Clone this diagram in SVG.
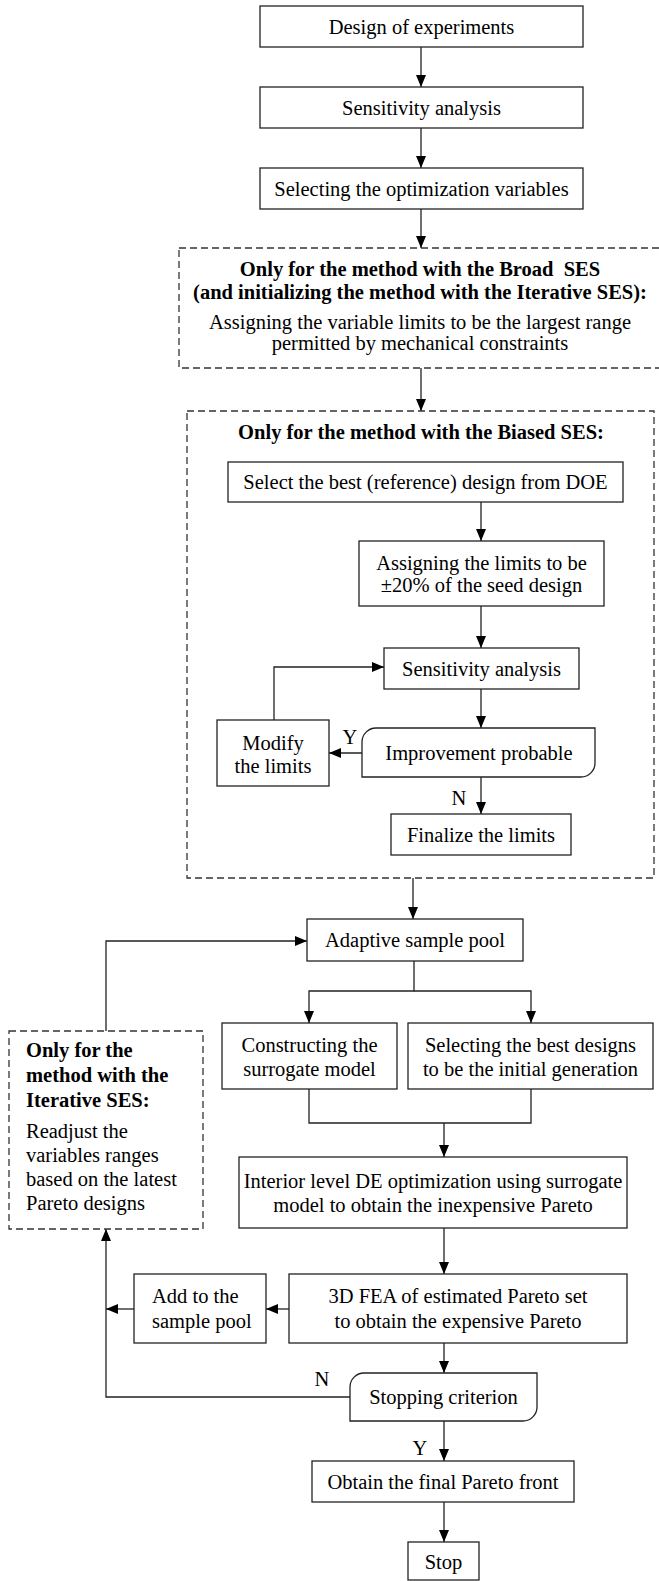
<svg xmlns="http://www.w3.org/2000/svg" width="659" height="1581" viewBox="0 0 659 1581">
<style>
text{font-family:"Liberation Serif","Times New Roman",serif;font-size:20.5px;fill:#000}
.c{text-anchor:middle}
.b{font-weight:bold}
.box{fill:#fff;stroke:#222;stroke-width:1.3}
.dash{fill:none;stroke:#333;stroke-width:1.3;stroke-dasharray:7 4}
.ln{fill:none;stroke:#222;stroke-width:1.3}
.ar{fill:none;stroke:#222;stroke-width:1.3;marker-end:url(#ah)}
</style>
<defs>
<marker id="ah" viewBox="0 0 12 10" refX="12" refY="5" markerWidth="12" markerHeight="10" orient="auto" markerUnits="userSpaceOnUse">
<path d="M0,0 L12,5 L0,10 Z" fill="#000"/>
</marker>
</defs>
<rect width="659" height="1581" fill="#fff"/>

<g id="connectors">
<path class="ar" d="M421 47 V87"/>
<path class="ar" d="M421 128 V168"/>
<path class="ar" d="M421 209 V248"/>
<path class="ar" d="M421 368 V411"/>
<path class="ar" d="M481 502 V541"/>
<path class="ar" d="M481 606 V648"/>
<path class="ar" d="M481 689 V728"/>
<path class="ar" d="M362 753 H329"/>
<path class="ar" d="M274 720 V667 H384"/>
<path class="ar" d="M481 777 V814"/>
<path class="ar" d="M413 878 V919"/>
<path class="ar" d="M414 961 V991 H309 V1023"/>
<path class="ar" d="M414 991 H531 V1023"/>
<path class="ln" d="M309 1089 V1123 H531 V1089"/>
<path class="ar" d="M444 1123 V1157"/>
<path class="ar" d="M444 1228 V1274"/>
<path class="ar" d="M289 1309 H266"/>
<path class="ar" d="M134 1309 H106"/>
<path class="ar" d="M444 1343 V1373"/>
<path class="ar" d="M350 1397 H106 V1229"/>
<path class="ar" d="M106 1031 V941 H307"/>
<path class="ar" d="M444 1421 V1461"/>
<path class="ar" d="M444 1502 V1542"/>
</g>

<g id="n1"><rect class="box" x="260" y="6" width="323" height="41"/><text class="c" x="421.5" y="33.5">Design of experiments</text></g>
<g id="n2"><rect class="box" x="260" y="87" width="323" height="41"/><text class="c" x="421.5" y="114.5">Sensitivity analysis</text></g>
<g id="n3"><rect class="box" x="260" y="168" width="323" height="41"/><text class="c" x="421.5" y="195.5">Selecting the optimization variables</text></g>

<g id="broad">
<rect class="dash" x="179" y="248" width="484" height="120"/>
<text class="c b" x="420" y="276" style="white-space:pre">Only for the method with the Broad  SES</text>
<text class="c b" x="420" y="299">(and initializing the method with the Iterative SES):</text>
<text class="c" x="420" y="329">Assigning the variable limits to be the largest range</text>
<text class="c" x="420" y="350">permitted by mechanical constraints</text>
</g>

<g id="biased">
<rect class="dash" x="187" y="411" width="467" height="467"/>
<text class="c b" x="421" y="438.5">Only for the method with the Biased SES:</text>
</g>

<g id="n4"><rect class="box" x="228" y="462" width="395" height="40"/><text class="c" x="425.5" y="489">Select the best (reference) design from DOE</text></g>
<g id="n5"><rect class="box" x="359" y="541" width="245" height="65"/><text class="c" x="481.5" y="570">Assigning the limits to be</text><text class="c" x="481.5" y="592">±20% of the seed design</text></g>
<g id="n6"><rect class="box" x="384" y="648" width="195" height="41"/><text class="c" x="481.5" y="675.5">Sensitivity analysis</text></g>
<g id="n7"><path class="box" d="M376 728 H595 V763 A14 14 0 0 1 581 777 H362 V742 A14 14 0 0 1 376 728 Z"/><text class="c" x="479" y="759.5">Improvement probable</text></g>
<g id="n8"><rect class="box" x="217" y="720" width="112" height="66"/><text class="c" x="273" y="750">Modify</text><text class="c" x="273" y="773">the limits</text></g>
<g id="n9"><rect class="box" x="391" y="814" width="180" height="41"/><text class="c" x="481" y="841.5">Finalize the limits</text></g>
<text id="lblY1" class="c" x="350" y="744">Y</text>
<text id="lblN1" class="c" x="459" y="805">N</text>

<g id="n10"><rect class="box" x="307" y="919" width="216" height="42"/><text class="c" x="415" y="947">Adaptive sample pool</text></g>
<g id="n11"><rect class="box" x="222" y="1023" width="175" height="66"/><text class="c" x="309.5" y="1052">Constructing the</text><text class="c" x="309.5" y="1076">surrogate model</text></g>
<g id="n12"><rect class="box" x="408" y="1023" width="245" height="66"/><text class="c" x="530.5" y="1052">Selecting the best designs</text><text class="c" x="530.5" y="1076">to be the initial generation</text></g>

<g id="iterative">
<rect class="dash" x="9" y="1031" width="194" height="198"/>
<text class="b" x="26" y="1057">Only for the</text>
<text class="b" x="26" y="1082">method with the</text>
<text class="b" x="26" y="1107">Iterative SES:</text>
<text x="26" y="1138">Readjust the</text>
<text x="26" y="1162">variables ranges</text>
<text x="26" y="1186">based on the latest</text>
<text x="26" y="1210">Pareto designs</text>
</g>

<g id="n13"><rect class="box" x="239" y="1157" width="388" height="71"/><text class="c" x="433" y="1188">Interior level DE optimization using surrogate</text><text class="c" x="433" y="1212">model to obtain the inexpensive Pareto</text></g>
<g id="n14"><rect class="box" x="289" y="1274" width="338" height="69"/><text class="c" x="458" y="1303">3D FEA of estimated Pareto set</text><text class="c" x="458" y="1328">to obtain the expensive Pareto</text></g>
<g id="n15"><rect class="box" x="134" y="1274" width="132" height="69"/><text x="152" y="1303">Add to the</text><text x="152" y="1328">sample pool</text></g>
<g id="n16"><path class="box" d="M364 1373 H537 V1407 A14 14 0 0 1 523 1421 H350 V1387 A14 14 0 0 1 364 1373 Z"/><text class="c" x="443.5" y="1404">Stopping criterion</text></g>
<text id="lblN2" class="c" x="322" y="1386">N</text>
<text id="lblY2" class="c" x="420" y="1455">Y</text>
<g id="n17"><rect class="box" x="312" y="1461" width="262" height="41"/><text class="c" x="443" y="1488.5">Obtain the final Pareto front</text></g>
<g id="n18"><rect class="box" x="408" y="1542" width="71" height="38"/><text class="c" x="443.5" y="1569">Stop</text></g>
</svg>
